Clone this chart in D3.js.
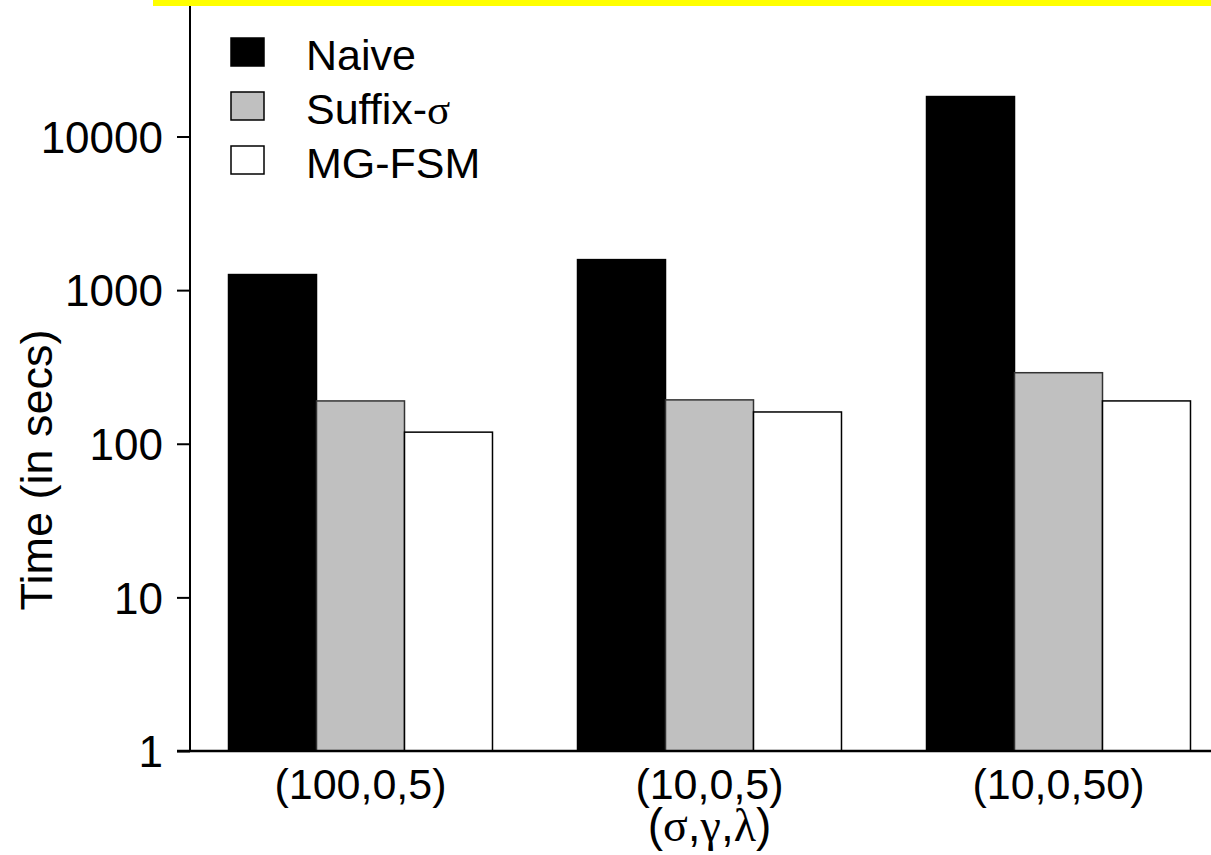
<!DOCTYPE html>
<html>
<head>
<meta charset="utf-8">
<script src="https://cdn.jsdelivr.net/npm/d3@7"></script>
<style>
  body { margin: 0; background: #fff; }
  text { font-family: "Liberation Sans", Arial, sans-serif; fill: #000; }
</style>
</head>
<body>
<div id="chart-area"></div>
<script>
// data
const categories = ["(100,0,5)", "(10,0,5)", "(10,0,50)"]
const seriesNames = ["Naive", "Suffix-σ", "MG-FSM"]
const naive = [1263, 1580, 18200]
const suffixSigma = [190, 193, 290]
const mgFsm = [119, 161, 190]
const yTicks = [1, 10, 100, 1000, 10000]

const WIDTH = 1211
const HEIGHT = 855
const colors = ["#000000", "#c0c0c0", "#ffffff"]
const FONT = 43

const svg = d3.select("#chart-area").append("svg")
    .attr("width", WIDTH)
    .attr("height", HEIGHT)

// yellow strip at the top
svg.append("rect")
    .attr("x", 153).attr("y", 0)
    .attr("width", WIDTH - 153).attr("height", 6)
    .attr("fill", "#ffff00")

// scales
const y = d3.scaleLog().domain([1, 10000]).range([751, 136.5])
const x0 = d3.scaleBand().domain(categories)
    .range([186, 1233]).paddingInner(0.2436).paddingOuter(0.1218)
const x1 = d3.scaleBand().domain(seriesNames).range([0, x0.bandwidth()])

// bars
const rows = categories.map((c, i) => ({
    cat: c,
    vals: [naive[i], suffixSigma[i], mgFsm[i]]
}))

const groups = svg.append("g").selectAll("g")
    .data(rows).enter().append("g")
    .attr("transform", d => `translate(${x0(d.cat)},0)`)

groups.selectAll("rect")
    .data(d => d.vals.map((v, j) => ({ name: seriesNames[j], v: v, j: j })))
    .enter().append("rect")
    .attr("x", d => x1(d.name))
    .attr("y", d => y(d.v))
    .attr("width", x1.bandwidth())
    .attr("height", d => y(1) - y(d.v))
    .attr("fill", d => colors[d.j])
    .attr("stroke", d => d.j === 1 ? "#333" : "#000")
    .attr("stroke-width", 1.5)

// y axis
const yAxis = svg.append("g")
    .attr("transform", "translate(190,0)")
    .call(d3.axisLeft(y).tickValues(yTicks).tickFormat(d3.format("d")).tickSize(13).tickPadding(14))
yAxis.select(".domain").remove()
yAxis.append("line")
    .attr("x1", 0).attr("x2", 0).attr("y1", 6).attr("y2", 751)
    .attr("stroke", "#000").attr("stroke-width", 2)
yAxis.selectAll(".tick line").attr("stroke-width", 2)
yAxis.selectAll(".tick text")
    .attr("font-size", 44)
    .attr("font-family", "Liberation Sans, Arial, sans-serif")
    .attr("dy", "0.36em")
    .attr("fill", "#000")

// x axis line
svg.append("line")
    .attr("x1", 177).attr("x2", WIDTH)
    .attr("y1", 751).attr("y2", 751)
    .attr("stroke", "#000").attr("stroke-width", 2.5)

// category labels
svg.append("g").selectAll("text")
    .data(categories).enter().append("text")
    .attr("x", d => x0(d) + x0.bandwidth() / 2)
    .attr("y", 799)
    .attr("text-anchor", "middle")
    .attr("font-size", FONT)
    .text(d => d)

// x axis title
const xTitle = svg.append("text")
    .attr("x", x0(categories[1]) + x0.bandwidth() / 2)
    .attr("y", 841)
    .attr("text-anchor", "middle")
    .attr("font-size", 46)
xTitle.append("tspan").text("(")
xTitle.append("tspan").attr("font-family", "Liberation Serif, serif").text("σ")
xTitle.append("tspan").text(",")
xTitle.append("tspan").attr("font-family", "Liberation Serif, serif").text("γ")
xTitle.append("tspan").text(",")
xTitle.append("tspan").attr("font-family", "Liberation Serif, serif").text("λ")
xTitle.append("tspan").text(")")

// y axis title
svg.append("text")
    .attr("transform", "translate(52,470) rotate(-90)")
    .attr("text-anchor", "middle")
    .attr("font-size", 45)
    .text("Time (in secs)")

// legend
const legend = svg.append("g").selectAll("g")
    .data(seriesNames).enter().append("g")
    .attr("transform", (d, i) => `translate(231,${38 + i * 54})`)
legend.append("rect")
    .attr("width", 33).attr("height", 28)
    .attr("fill", (d, i) => colors[i])
    .attr("stroke", "#000").attr("stroke-width", 1.5)
const legendText = legend.append("text")
    .attr("x", 75).attr("y", 32)
    .attr("font-size", FONT)
legendText.each(function (d) {
    const t = d3.select(this)
    if (d.endsWith("σ")) {
        t.append("tspan").text(d.slice(0, -1))
        t.append("tspan").attr("font-family", "Liberation Serif, serif").text("σ")
    } else {
        t.text(d)
    }
})
</script>
</body>
</html>
